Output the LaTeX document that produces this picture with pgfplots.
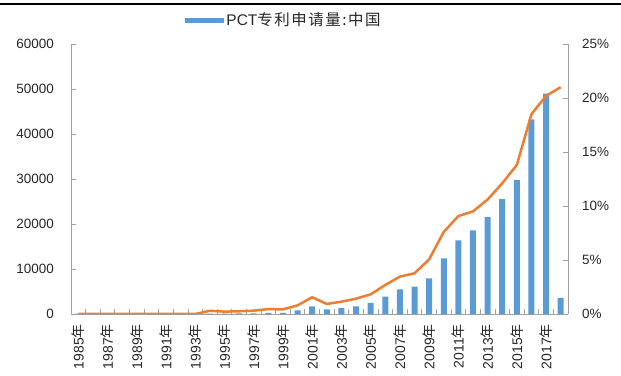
\documentclass[border=0pt]{standalone}
\usepackage{pgfplots}
\pgfplotsset{compat=1.18}
\usepackage{fontspec}
\setmainfont{Liberation Sans}
\newfontfamily\cjk{Noto Sans CJK SC}
\newfontfamily\cjkwide[LetterSpace=10]{Noto Sans CJK SC}
\definecolor{barblue}{HTML}{5B9BD5}
\definecolor{lineorange}{HTML}{ED7D31}
\definecolor{axgray}{HTML}{A0A0A0}
\begin{document}
\begin{tikzpicture}
\useasboundingbox (-71bp,-62bp) rectangle (550bp,314bp);
\draw[black, line width=1.5bp] (-71bp,310bp) -- (550bp,310bp);
\pgfplotsset{
  base/.style={scale only axis, width=497bp, height=270bp, at={(0,0)}, anchor=south west,
    xmin=-0.5, xmax=33.5, ymin=0, scaled y ticks=false,
    tick label style={font=\fontsize{13.5}{16}\selectfont, text=black!85},
    axis line style={axgray, line width=0.8bp},
    tick style={axgray, line width=0.8bp},
    tick align=inside,
    major tick length=5bp, minor tick length=5bp,
  }
}
\begin{axis}[base, ymax=60000, axis y line*=left, axis x line*=bottom,
   ytick={0,10000,20000,30000,40000,50000,60000},
   yticklabels={0,10000,20000,30000,40000,50000,60000},
   yticklabel style={inner sep=0pt}, yticklabel shift=17bp,
   xtick={0,2,...,32},
   xticklabels={1985{\cjk 年},1987{\cjk 年},1989{\cjk 年},1991{\cjk 年},1993{\cjk 年},1995{\cjk 年},1997{\cjk 年},1999{\cjk 年},2001{\cjk 年},2003{\cjk 年},2005{\cjk 年},2007{\cjk 年},2009{\cjk 年},2011{\cjk 年},2013{\cjk 年},2015{\cjk 年},2017{\cjk 年}},
   xticklabel style={rotate=90, anchor=east, inner sep=0pt, font=\fontsize{14}{16}\selectfont}, xticklabel shift=10bp,
   major x tick style={draw=none},
   minor xtick={0.5,1.5,...,32.5},
   minor x tick style={draw=axgray, line width=0.8bp},
   legend style={draw=none, fill=none, at={(0.4286,1)}, anchor=center, yshift=24bp,
     font=\fontsize{15.5}{18}\selectfont, text=black!85},
   legend image code/.code={\fill[barblue] (0bp,-2.5bp) rectangle (39bp,2.5bp);},
]
\addplot[ybar, bar width=6bp, fill=barblue, draw=none] coordinates {
(0,80) (1,0) (2,0) (3,0) (4,0) (5,0) (6,0) (7,0) (8,0) (9,100)
(10,103) (11,130) (12,163) (13,228) (14,276) (15,800) (16,1700) (17,1018) (18,1295) (19,1706)
(20,2470) (21,3880) (22,5480) (23,6080) (24,7930) (25,12370) (26,16380) (27,18600) (28,21550) (29,25550)
(30,29800) (31,43250) (32,49000) (33,3600)
};
\addlegendentry{PCT{\cjkwide 专利申请量:中国}}
\end{axis}
\begin{axis}[base, ymax=25, axis y line*=right, axis x line=none,
   ytick={0,5,10,15,20,25},
   yticklabels={0\%,5\%,10\%,15\%,20\%,25\%},
   yticklabel style={inner sep=0pt}, yticklabel shift=14bp,
]
\addplot[lineorange, line width=2.5bp] coordinates {
(0,0) (1,0) (2,0) (3,0) (4,0) (5,0) (6,0) (7,0) (8,0) (9,0.30)
(10,0.22) (11,0.25) (12,0.31) (13,0.45) (14,0.43) (15,0.80) (16,1.55) (17,0.93) (18,1.14) (19,1.42)
(20,1.82) (21,2.69) (22,3.46) (23,3.77) (24,5.06) (25,7.6) (26,9.07) (27,9.5) (28,10.6) (29,12.1)
(30,13.8) (31,18.5) (32,20.2) (33,21.0)
};
\end{axis}
\end{tikzpicture}
\end{document}
